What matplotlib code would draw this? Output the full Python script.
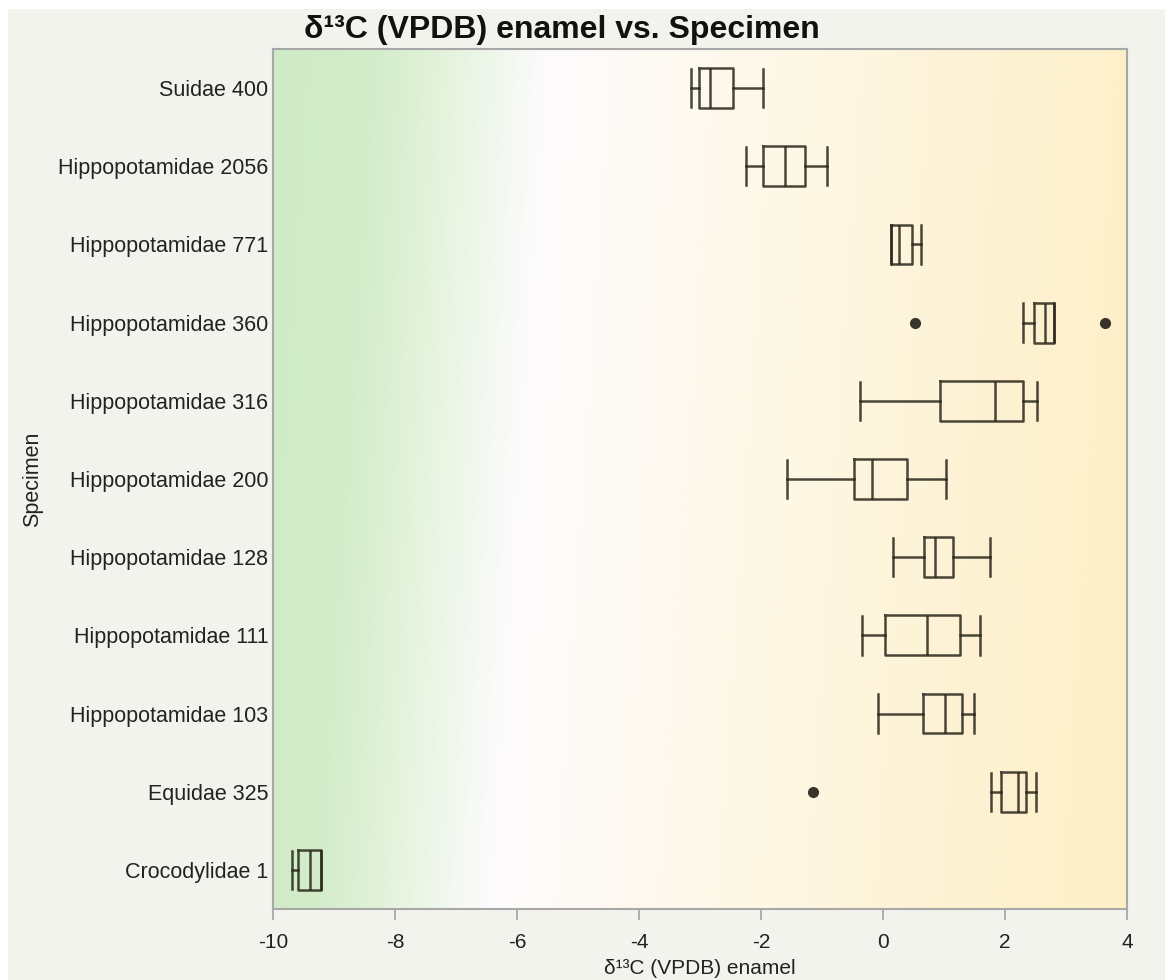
import matplotlib.pyplot as plt
import numpy as np
from matplotlib.colors import LinearSegmentedColormap
from matplotlib.patches import Rectangle

plt.rcParams["font.family"] = ["Liberation Sans", "DejaVu Sans"]

# one row per specimen, top to bottom
specimens = [
    "Suidae 400",
    "Hippopotamidae 2056",
    "Hippopotamidae 771",
    "Hippopotamidae 360",
    "Hippopotamidae 316",
    "Hippopotamidae 200",
    "Hippopotamidae 128",
    "Hippopotamidae 111",
    "Hippopotamidae 103",
    "Equidae 325",
    "Crocodylidae 1",
]
whisker_lo = [-3.15, -2.25, 0.13, 2.29, -0.38, -1.57, 0.17, -0.35, -0.09, 1.77, -9.69]
q1 = [-3.02, -1.96, 0.13, 2.48, 0.94, -0.47, 0.68, 0.04, 0.65, 1.94, -9.59]
median = [-2.83, -1.60, 0.26, 2.65, 1.84, -0.18, 0.86, 0.72, 1.01, 2.21, -9.39]
q3 = [-2.46, -1.28, 0.47, 2.81, 2.29, 0.40, 1.15, 1.27, 1.30, 2.34, -9.22]
whisker_hi = [-1.96, -0.91, 0.62, 2.81, 2.52, 1.04, 1.75, 1.59, 1.50, 2.50, -9.22]
outliers = [[], [], [], [0.53, 3.64], [], [], [], [], [], [-1.15], []]

x_ticks = [-10, -8, -6, -4, -2, 0, 2, 4]

W, H = 1165, 980
fig = plt.figure(figsize=(W / 100, H / 100), dpi=100, facecolor="white")
fig.patches.append(Rectangle((8 / W, 0), 1, 1 - 9 / H, transform=fig.transFigure,
                             facecolor="#f3f3ee", edgecolor="none", zorder=-10))

ax = fig.add_axes([273 / W, 1 - 909 / H, (1127 - 273) / W, (909 - 49) / H])

# slanted green -> white -> yellow backdrop
span = 1.067
stops = [
    (0.00, "#cfeac6"),
    (0.12, "#d3edca"),
    (0.20, "#e4f3dc"),
    (0.27, "#f2f8ef"),
    (0.32, "#fdfbfd"),
    (0.45, "#fefaf3"),
    (0.65, "#fef7e3"),
    (0.85, "#fdf2d4"),
    (span, "#fdefc6"),
]
bg = LinearSegmentedColormap.from_list("bg", [(p / span, c) for p, c in stops])
xs = np.linspace(0, 1, 600)
ys = np.linspace(0, 1, 300)
gx, gy = np.meshgrid(xs, ys)
t = (gx + 0.067 * (1 - gy)) / span
ax.imshow(t, cmap=bg, vmin=0, vmax=1, origin="lower", extent=[0, 1, 0, 1],
          transform=ax.transAxes, aspect="auto", zorder=0, interpolation="bilinear")

stats = []
for i in range(len(specimens)):
    stats.append({
        "whislo": whisker_lo[i], "q1": q1[i], "med": median[i],
        "q3": q3[i], "whishi": whisker_hi[i], "fliers": outliers[i],
    })

line_col = (0.16, 0.15, 0.10, 0.85)
lp = dict(color=line_col, linewidth=1.8)
ax.bxp(stats, positions=range(len(specimens)), vert=False, widths=0.51,
       capwidths=0.49, showfliers=True, patch_artist=False,
       boxprops=lp, whiskerprops=lp, capprops=lp, medianprops=lp,
       flierprops=dict(marker="o", markersize=7, markerfacecolor="#38342a",
                       markeredgecolor="#38342a"),
       zorder=3)

ax.set_ylim(len(specimens) - 0.5, -0.5)
ax.set_yticks(range(len(specimens)))
ax.set_yticklabels(specimens, fontsize=15.5, color="#222222")
ax.set_xlim(-10, 4)
ax.set_xticks(x_ticks)
ax.set_xticklabels([str(v) for v in x_ticks], fontsize=15, color="#222222")
ax.tick_params(axis="y", length=0, pad=3.5)
ax.tick_params(axis="x", length=8, width=1.3, color="#a8a8a8", pad=9.5)

for s in ax.spines.values():
    s.set_color("#a8a8a8")
    s.set_linewidth(1.5)

ax.set_xlabel("δ¹³C (VPDB) enamel", fontsize=15, color="#222222", labelpad=5)
fig.text(33 / W, 1 - 479 / H, "Specimen", rotation=90, fontsize=15.5,
         color="#222222", ha="center", va="center")
fig.text(562 / W, 1 - 30 / H, "δ¹³C (VPDB) enamel vs. Specimen", fontsize=23,
         fontweight="bold", color="#111111", ha="center", va="center")

fig.savefig("out.png", dpi=100, facecolor=fig.get_facecolor())
